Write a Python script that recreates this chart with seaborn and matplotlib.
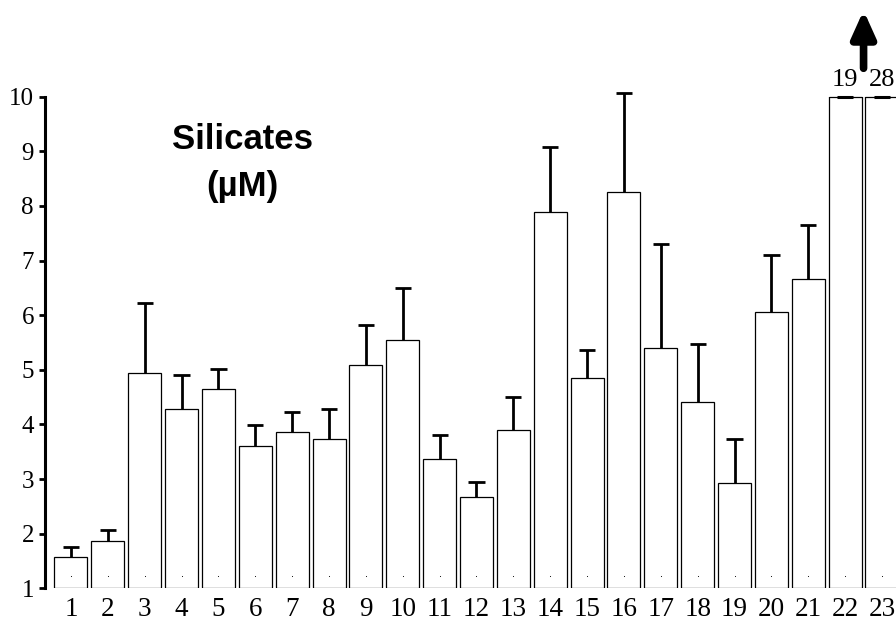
import numpy as np
import pandas as pd
import matplotlib
matplotlib.use("Agg")
import matplotlib.pyplot as plt
import seaborn as sns

# Mean silicate concentration per station (µM) and the upper standard error
stations = [str(i) for i in range(1, 24)]
silicates = [1.58, 1.87, 4.95, 4.28, 4.64, 3.61, 3.86, 3.73, 5.09, 5.55,
             3.37, 2.68, 3.89, 7.89, 4.85, 8.25, 5.40, 4.41, 2.93, 6.05,
             6.66, 19, 28]
upper_err = [0.18, 0.20, 1.27, 0.62, 0.37, 0.38, 0.36, 0.55, 0.73, 0.94,
             0.44, 0.27, 0.62, 1.18, 0.52, 1.82, 1.91, 1.06, 0.80, 1.05,
             0.99, np.nan, np.nan]
y_ticks = [1, 2, 3, 4, 5, 6, 7, 8, 9, 10]
y_min, y_max = 1, 10

df = pd.DataFrame({"station": stations, "silicates": silicates})

sns.set_style("ticks")
plt.rcParams["font.family"] = ["Liberation Serif", "DejaVu Serif"]
plt.rcParams["text.color"] = "black"

fig = plt.figure(figsize=(8.96, 6.23), dpi=100)
ax = fig.add_axes([45 / 896, 0.0557, 1 - 45 / 896, 0.7891])

sns.barplot(data=df, x="station", y="silicates", color="white",
            edgecolor="black", linewidth=0.9, width=0.895,
            errorbar=None, saturation=1, ax=ax)

# bars rise from the axis floor rather than from zero
for p in ax.patches:
    top = p.get_y() + p.get_height()
    p.set_y(y_min)
    p.set_height(top - y_min)

xpos = np.arange(len(stations))
vals = np.array(silicates, dtype=float)
errs = np.array(upper_err, dtype=float)
ok = ~np.isnan(errs)

# one-sided (upward) error bars with a cap only at the top
cap_half = 0.22
ax.vlines(xpos[ok], vals[ok], vals[ok] + errs[ok], colors="black",
          lw=2.0, clip_on=False, zorder=3)
ax.hlines(vals[ok] + errs[ok], xpos[ok] - cap_half, xpos[ok] + cap_half,
          colors="black", lw=2.0, clip_on=False, zorder=3)

# bars that run off the scale: closed top plus their printed value
off = vals > y_max
half_w = 0.895 / 2
ax.hlines(np.full(off.sum(), y_max), xpos[off] - half_w, xpos[off] + half_w,
          colors="black", lw=0.9, clip_on=False, zorder=4)
ax.hlines(np.full(off.sum(), y_max), xpos[off] - cap_half, xpos[off] + cap_half,
          colors="black", lw=2.2, clip_on=False, zorder=4)
for x, v in zip(xpos[off], vals[off]):
    ax.text(x, y_max + 0.1, f"{v:g}", ha="center", va="bottom",
            fontsize=19, color="black", clip_on=False)
ax.annotate("", xy=(21.5, 11.58), xytext=(21.5, 10.52),
            xycoords="data", annotation_clip=False,
            arrowprops=dict(arrowstyle="-|>,head_length=0.8,head_width=0.36",
                            lw=5.5, color="black", capstyle="round",
                            shrinkA=0, shrinkB=0, mutation_scale=20))

# small markers at the foot of each bar
ax.scatter(xpos, np.full(len(xpos), 1.22), s=0.6, color="black",
           linewidths=0, zorder=5)

ax.set_xlim(-0.705, 22.38)
ax.set_ylim(y_min, y_max)
ax.set_yticks(y_ticks)
ax.set_yticklabels([str(t) for t in y_ticks])
ax.set_xlabel("")
ax.set_ylabel("")
for s in ["top", "right", "bottom"]:
    ax.spines[s].set_visible(False)
ax.spines["left"].set_linewidth(2.2)
ax.spines["left"].set_color("black")
ax.tick_params(axis="y", length=4.5, width=2.0, pad=3.5, labelsize=18,
               colors="black", labelcolor="black", direction="out")
ax.tick_params(axis="x", length=0, pad=6, labelsize=19.5,
               colors="black", labelcolor="black")

title_kw = dict(ha="center", va="center", fontsize=25, fontweight="bold",
                color="black", family=["Liberation Sans", "DejaVu Sans"])
ax.text(4.64, 9.21, "Silicates", **title_kw)
ax.text(4.64, 8.35, "(µM)", **title_kw)

fig.savefig("out.png", dpi=100)
